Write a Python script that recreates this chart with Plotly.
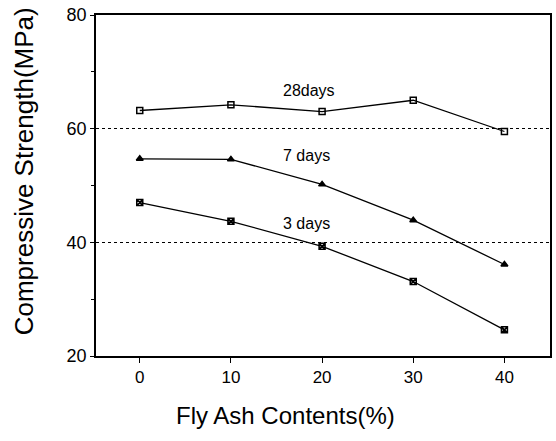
import plotly.graph_objects as go

# Fly ash replacement level (%)
fly_ash = [0, 10, 20, 30, 40]

# Compressive strength (MPa) by curing age
strength_28d = [63.2, 64.2, 63.0, 65.0, 59.5]
strength_7d = [54.7, 54.6, 50.2, 43.9, 36.1]
strength_3d = [47.0, 43.7, 39.3, 33.1, 24.6]

series_labels = ["28days", "7 days", "3 days"]
label_x = [18.6, 18.3, 18.3]
label_y = [66.8, 55.2, 43.4]

y_ticks = [20, 40, 60, 80]
x_ticks = [0, 10, 20, 30, 40]

x_title = "Fly Ash Contents(%)"
y_title = "Compressive Strength(MPa)"

font_family = "Liberation Sans, Arial, sans-serif"

W, H = 556, 441
M_L, M_R, M_T, M_B = 96, 4, 15, 85
plot_w = W - M_L - M_R
plot_h = H - M_T - M_B


def px_to_paper(px, py):
    """Page pixel position (from top-left) to paper fractions."""
    return (px - M_L) / plot_w, (H - py - M_B) / plot_h


fig = go.Figure()

series = [
    (strength_28d, "square-open"),
    (strength_7d, "triangle-up"),
    (strength_3d, "square-x-open"),
]
for values, symbol in series:
    fig.add_trace(go.Scatter(
        x=fly_ash, y=values, mode="lines+markers",
        line=dict(color="black", width=1.3),
        marker=dict(symbol=symbol, size=6, color="black",
                    line=dict(color="black", width=1.5)),
        showlegend=False,
    ))

for text, xa, ya in zip(series_labels, label_x, label_y):
    fig.add_annotation(x=xa, y=ya, text=text, showarrow=False,
                       font=dict(family=font_family, size=16, color="black"))

# Axis titles
yx, yy = px_to_paper(24, 171)
fig.add_annotation(x=yx, y=yy, xref="paper", yref="paper",
                   xanchor="center", yanchor="middle",
                   text=y_title, textangle=-90, showarrow=False,
                   font=dict(family=font_family, size=26, color="black"))
xx, xy = px_to_paper(286, 415)
fig.add_annotation(x=xx, y=xy, xref="paper", yref="paper",
                   xanchor="center", yanchor="middle",
                   text=x_title, showarrow=False,
                   font=dict(family=font_family, size=24, color="black"))

fig.update_layout(
    width=W, height=H,
    margin=dict(l=M_L, r=M_R, t=M_T, b=M_B),
    paper_bgcolor="white", plot_bgcolor="white",
    font=dict(family=font_family, color="black"),
)

fig.update_xaxes(
    range=[-4.8, 45.0], tickvals=x_ticks,
    showline=True, linecolor="black", linewidth=1.5, mirror=True,
    ticks="outside", ticklen=5, tickcolor="black",
    showgrid=False, zeroline=False,
    tickfont=dict(size=17),
)

fig.update_yaxes(
    range=[20, 80], tickvals=y_ticks,
    showline=True, linecolor="black", linewidth=1.5, mirror=True,
    ticks="outside", ticklen=4, tickcolor="black",
    minor=dict(tickvals=[30, 50, 70], ticks="outside", ticklen=3,
               tickcolor="black", showgrid=False),
    showgrid=True, gridcolor="black", griddash="dot", gridwidth=1,
    zeroline=False,
    tickfont=dict(size=18),
)

fig.write_html("out.html")
